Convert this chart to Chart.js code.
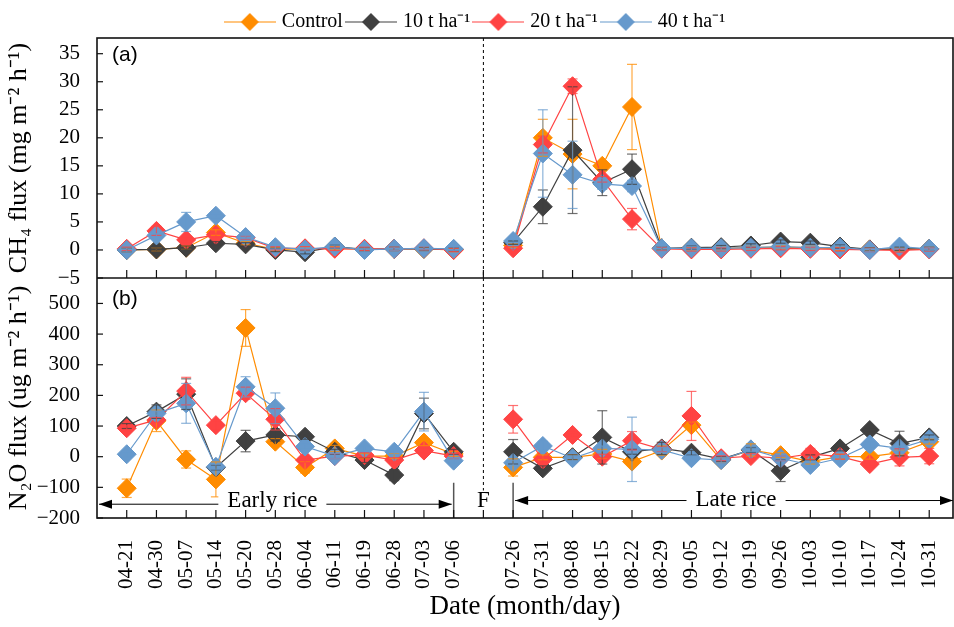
<!DOCTYPE html>
<html lang="en">

<head>
    <meta charset="UTF-8">
    <title>CH4 and N2O flux</title>
    <script src="https://cdn.jsdelivr.net/npm/chart.js"></script>
    <style>
        html,
        body {
            margin: 0;
            padding: 0;
            background: #fff;
        }
    </style>
</head>

<body>
    <canvas id="fluxChart" width="954" height="627"></canvas>

    <script>
        // sampling dates, '' is the fallow gap (F) between the two seasons
        const dates = ['04-21', '04-30', '05-07', '05-14', '05-20', '05-28', '06-04', '06-11', '06-19', '06-28', '07-03', '07-06',
            '',
            '07-26', '07-31', '08-08', '08-15', '08-22', '08-29', '09-05', '09-12', '09-19', '09-26', '10-03', '10-10', '10-17', '10-24', '10-31'];

        const seriesNames = ['Control', '10 t ha⁻¹', '20 t ha⁻¹', '40 t ha⁻¹'];
        const seriesColors = ['#ff8c00', '#404040', '#ff4343', '#6699cc'];

        const ch4Ticks = [-5, 0, 5, 10, 15, 20, 25, 30, 35];
        const n2oTicks = [-200, -100, 0, 100, 200, 300, 400, 500];

        // CH4 flux (mg m-2 h-1)
        const ch4Control = [0.0, 0.1, 0.4, 3.1, 1.2, 0.1, 0.2, 0.3, 0.1, 0.2, 0.2, 0.0, null,
            0.8, 20.0, 17.1, 15.0, 25.5, 0.3, 0.2, 0.3, 0.4, 0.5, 0.4, 0.2, 0.1, 0.1, 0.2];
        const ch4T10 = [0.0, 0.1, 0.4, 1.2, 1.0, 0.0, -0.4, 0.6, 0.1, 0.2, 0.2, 0.1, null,
            1.3, 7.7, 17.8, 12.0, 14.4, 0.3, 0.4, 0.5, 0.8, 1.5, 1.3, 0.6, 0.1, 0.2, 0.2];
        const ch4T20 = [0.2, 3.4, 1.8, 2.7, 2.2, 0.3, 0.3, 0.2, 0.2, 0.2, 0.3, 0.0, null,
            0.3, 18.8, 29.2, 12.6, 5.5, 0.2, 0.1, 0.1, 0.2, 0.3, 0.2, 0.1, 0.0, -0.1, 0.1];
        const ch4T40 = [0.0, 2.6, 5.0, 6.1, 2.3, 0.5, 0.1, 0.6, 0.0, 0.2, 0.3, 0.2, null,
            1.6, 17.2, 13.4, 11.8, 11.4, 0.3, 0.3, 0.3, 0.4, 0.6, 0.4, 0.4, 0.0, 0.6, 0.2];

        const ch4ControlErr = [0.3, 0.3, 0.3, 0.5, 0.3, 0.3, 0.3, 0.3, 0.3, 0.3, 0.3, 0.3, null,
            0.3, 3.3, 6.2, 0.5, 7.6, 0.3, 0.3, 0.3, 0.3, 0.3, 0.3, 0.3, 0.3, 0.3, 0.3];
        const ch4T10Err = [0.3, 0.3, 0.3, 0.3, 0.3, 0.3, 0.3, 0.3, 0.3, 0.3, 0.3, 0.3, null,
            0.3, 3.0, 11.3, 2.3, 2.7, 0.3, 0.3, 0.3, 0.3, 0.3, 0.3, 0.3, 0.3, 0.3, 0.3];
        const ch4T20Err = [0.3, 0.8, 0.3, 0.3, 0.3, 0.3, 0.3, 0.3, 0.3, 0.3, 0.3, 0.3, null,
            0.3, 1.5, 1.3, 0.5, 1.9, 0.3, 0.3, 0.3, 0.3, 0.3, 0.3, 0.3, 0.3, 0.3, 0.3];
        const ch4T40Err = [0.3, 0.3, 1.7, 0.3, 0.3, 0.3, 0.3, 0.3, 0.3, 0.3, 0.3, 0.3, null,
            0.3, 7.8, 6.0, 1.0, 1.0, 0.3, 0.3, 0.3, 0.3, 0.3, 0.3, 0.3, 0.3, 0.3, 0.3];

        // N2O flux (ug m-2 h-1)
        const n2oControl = [-103, 117, -9, -74, 420, 49, -35, 27, 2, 2, 46, 9, null,
            -35, -2, -2, 9, -16, 20, 103, -11, 22, 5, -16, 0, 0, 13, 49];
        const n2oT10 = [100, 147, 204, -35, 51, 71, 65, 16, -11, -60, 141, 16, null,
            16, -38, -2, 63, 16, 27, 13, -8, 22, -46, -2, 27, 87, 43, 63];
        const n2oT20 = [93, 120, 214, 103, 207, 122, -11, 2, 5, -11, 20, 2, null,
            122, -9, 71, 0, 52, 24, 133, -5, 2, -5, 9, 0, -24, -2, 2];
        const n2oT40 = [8, 141, 174, -33, 228, 158, 33, 2, 27, 16, 147, -13, null,
            -20, 35, -5, 27, 24, 22, -5, -11, 24, -5, -27, -5, 40, 27, 57];

        const n2oControlErr = [30, 35, 28, 57, 60, 10, 18, 10, 8, 8, 10, 8, null,
            28, 8, 8, 15, 8, 15, 10, 8, 20, 8, 8, 8, 8, 8, 8];
        const n2oT10Err = [8, 22, 50, 8, 35, 20, 8, 8, 8, 18, 50, 8, null,
            40, 8, 8, 87, 8, 20, 8, 8, 8, 35, 8, 8, 8, 40, 8];
        const n2oT20Err = [8, 8, 45, 15, 20, 35, 8, 8, 8, 8, 8, 8, null,
            45, 8, 8, 8, 30, 8, 80, 8, 8, 8, 18, 8, 8, 28, 25];
        const n2oT40Err = [8, 8, 65, 8, 33, 50, 8, 8, 8, 8, 63, 8, null,
            8, 15, 8, 8, 105, 8, 8, 8, 8, 8, 8, 8, 8, 8, 8];

        const ch4Series = [ch4Control, ch4T10, ch4T20, ch4T40];
        const ch4Errors = [ch4ControlErr, ch4T10Err, ch4T20Err, ch4T40Err];
        const n2oSeries = [n2oControl, n2oT10, n2oT20, n2oT40];
        const n2oErrors = [n2oControlErr, n2oT10Err, n2oT20Err, n2oT40Err];

        const serif = "'Liberation Serif', 'Times New Roman', serif";
        const sans = "'Liberation Sans', Arial, sans-serif";

        function makeDatasets(series, errors, axis) {
            return series.map((vals, s) => ({
                label: seriesNames[s],
                yAxisID: axis,
                data: vals.map((v, i) => ({ x: i, y: v })),
                errorBars: errors[s],
                borderColor: seriesColors[s],
                backgroundColor: seriesColors[s],
                borderWidth: 1.2,
                pointStyle: 'rectRot',
                pointRadius: 9.5,
                pointHoverRadius: 9.5,
                pointBorderWidth: 1,
                pointBackgroundColor: seriesColors[s],
                pointBorderColor: seriesColors[s],
                spanGaps: false,
                order: 3 - s
            }));
        }

        // legend icon: short line with a diamond in the middle
        const legendIcons = seriesColors.map(c => {
            const cv = document.createElement('canvas');
            cv.width = 52;
            cv.height = 20;
            const g = cv.getContext('2d');
            g.strokeStyle = c;
            g.lineWidth = 1.2;
            g.beginPath();
            g.moveTo(0, 10);
            g.lineTo(52, 10);
            g.stroke();
            g.fillStyle = c;
            g.beginPath();
            g.moveTo(26, 1);
            g.lineTo(35, 10);
            g.lineTo(26, 19);
            g.lineTo(17, 10);
            g.closePath();
            g.fill();
            return cv;
        });

        function hline(ctx, x1, y1, x2, y2) {
            ctx.beginPath();
            ctx.moveTo(x1, y1);
            ctx.lineTo(x2, y2);
            ctx.stroke();
        }

        function arrowHead(ctx, x, y, dir) {
            ctx.beginPath();
            ctx.moveTo(x, y);
            ctx.lineTo(x - dir * 13, y - 4.5);
            ctx.lineTo(x - dir * 13, y + 4.5);
            ctx.closePath();
            ctx.fill();
        }

        // push the legend row down a little, the plot area stays put
        const legendShift = {
            id: 'legendShift',
            afterLayout(chart) {
                if (chart.legend) {
                    chart.legend.top += 4;
                    chart.legend.bottom += 4;
                }
            }
        };

        const errorBarPlugin = {
            id: 'errorBars',
            afterDatasetsDraw(chart) {
                const ctx = chart.ctx;
                const xs = chart.scales.x;
                chart.data.datasets.forEach((ds, di) => {
                    const ys = chart.scales[ds.yAxisID];
                    ctx.save();
                    ctx.strokeStyle = ds.borderColor;
                    ctx.globalAlpha = 0.75;
                    ctx.lineWidth = 1.2;
                    ds.data.forEach((p, i) => {
                        if (p.y === null) return;
                        const e = ds.errorBars[i];
                        const px = xs.getPixelForValue(p.x);
                        const top = ys.getPixelForValue(p.y + e);
                        const bot = ys.getPixelForValue(p.y - e);
                        hline(ctx, px, top, px, bot);
                        hline(ctx, px - 5, top, px + 5, top);
                        hline(ctx, px - 5, bot, px + 5, bot);
                    });
                    ctx.restore();
                });
            }
        };

        const framePlugin = {
            id: 'frame',
            afterDraw(chart) {
                const { ctx, chartArea: a, scales } = chart;
                const xs = scales.x, yTop = scales.y, yBot = scales.y2;
                const mid = yTop.bottom;
                ctx.save();
                ctx.strokeStyle = '#000';
                ctx.fillStyle = '#000';

                // season annotations in panel (b)
                const gapX = xs.getPixelForValue(12);
                ctx.lineWidth = 1;
                ctx.setLineDash([3, 3]);
                hline(ctx, gapX, a.top, gapX, yBot.getPixelForValue(-110));
                ctx.setLineDash([]);

                const earlyEnd = xs.getPixelForValue(11);
                const lateStart = xs.getPixelForValue(13);
                ctx.strokeStyle = '#555';
                ctx.lineWidth = 1.5;
                hline(ctx, earlyEnd, yBot.getPixelForValue(-85), earlyEnd, a.bottom);
                hline(ctx, lateStart, yBot.getPixelForValue(-85), lateStart, a.bottom);

                ctx.strokeStyle = '#000';
                ctx.lineWidth = 1;
                const yEarly = yBot.getPixelForValue(-155);
                const yLate = yBot.getPixelForValue(-143);
                hline(ctx, a.left + 2, yEarly, earlyEnd - 2, yEarly);
                arrowHead(ctx, a.left + 2, yEarly, -1);
                arrowHead(ctx, earlyEnd - 2, yEarly, 1);
                hline(ctx, lateStart + 2, yLate, a.right, yLate);
                arrowHead(ctx, lateStart + 2, yLate, -1);
                arrowHead(ctx, a.right, yLate, 1);

                ctx.font = '23px ' + serif;
                ctx.textAlign = 'center';
                ctx.textBaseline = 'middle';
                [['Early rice', 4.9, yEarly - 3], ['Late rice', 20.5, yLate - 1]].forEach(([t, v, y]) => {
                    const cx = xs.getPixelForValue(v);
                    const w = ctx.measureText(t).width;
                    ctx.fillStyle = '#fff';
                    ctx.fillRect(cx - w / 2 - 9, y - 12, w + 18, 22);
                    ctx.fillStyle = '#000';
                    ctx.fillText(t, cx, y);
                });
                ctx.fillText('F', gapX, yLate);

                // panel letters
                ctx.font = '21px ' + sans;
                ctx.textAlign = 'left';
                ctx.fillText('(a)', a.left + 15, a.top + 17);
                ctx.fillText('(b)', a.left + 15, mid + 21);

                // frame and inward tick marks
                ctx.lineWidth = 1.6;
                ctx.strokeStyle = '#111';
                ctx.strokeRect(a.left, a.top, a.right - a.left, a.bottom - a.top);
                hline(ctx, a.left, mid, a.right, mid);
                ctx.lineWidth = 1.2;
                xs.ticks.forEach(t => {
                    const px = xs.getPixelForValue(t.value);
                    hline(ctx, px, mid, px, mid - 8);
                    hline(ctx, px, a.bottom, px, a.bottom - 8);
                });
                [yTop, yBot].forEach(s => s.ticks.forEach(t => {
                    const py = s.getPixelForValue(t.value);
                    hline(ctx, a.left, py, a.left + 6, py);
                }));
                ctx.restore();
            }
        };

        const minusSign = v => String(v).replace('-', '−');

        new Chart(document.getElementById('fluxChart'), {
            type: 'line',
            data: {
                datasets: makeDatasets(ch4Series, ch4Errors, 'y').concat(makeDatasets(n2oSeries, n2oErrors, 'y2'))
            },
            options: {
                responsive: false,
                animation: false,
                devicePixelRatio: 1,
                layout: {
                    autoPadding: false,
                    padding: { left: 0, right: 1, top: 2, bottom: 0 }
                },
                plugins: {
                    tooltip: { enabled: false },
                    legend: {
                        position: 'top',
                        labels: {
                            usePointStyle: true,
                            pointStyleWidth: 44,
                            padding: 6,
                            color: '#000',
                            font: { family: serif, size: 20 },
                            generateLabels: () => seriesNames.map((name, i) => ({
                                text: name,
                                pointStyle: legendIcons[i],
                                fillStyle: seriesColors[i],
                                strokeStyle: seriesColors[i],
                                lineWidth: 0,
                                hidden: false,
                                datasetIndex: i,
                                fontColor: '#000'
                            }))
                        }
                    }
                },
                scales: {
                    x: {
                        type: 'linear',
                        position: 'bottom',
                        min: -1,
                        max: 27.8,
                        afterBuildTicks: s => { s.ticks = dates.map((d, i) => ({ value: i })); },
                        afterFit: s => {
                            s.height = 109;
                            s.paddingLeft = 0;
                            s.paddingRight = 0;
                        },
                        grid: { display: false },
                        border: { display: false },
                        ticks: {
                            autoSkip: false,
                            minRotation: 90,
                            maxRotation: 90,
                            padding: 14,
                            color: '#000',
                            font: { family: serif, size: 21 },
                            callback: v => dates[v] ?? ''
                        },
                        title: {
                            display: true,
                            text: 'Date (month/day)',
                            color: '#000',
                            font: { family: serif, size: 27 },
                            padding: { top: 0, bottom: 4 }
                        }
                    },
                    y: {
                        type: 'linear',
                        position: 'left',
                        stack: 'panels',
                        stackWeight: 1,
                        weight: 1,
                        min: -5,
                        max: 37.8,
                        afterBuildTicks: s => { s.ticks = ch4Ticks.map(v => ({ value: v })); },
                        afterFit: s => { s.width = 97; },
                        grid: { display: false },
                        border: { display: false },
                        ticks: {
                            autoSkip: false,
                            padding: 9,
                            color: '#000',
                            font: { family: serif, size: 21 },
                            callback: minusSign
                        },
                        title: {
                            display: true,
                            text: 'CH₄ flux (mg m⁻² h⁻¹)',
                            color: '#000',
                            font: { family: serif, size: 26 },
                            padding: { top: 4, bottom: 0 }
                        }
                    },
                    y2: {
                        type: 'linear',
                        position: 'left',
                        stack: 'panels',
                        stackWeight: 1,
                        weight: 0,
                        min: -200,
                        max: 583,
                        afterBuildTicks: s => { s.ticks = n2oTicks.map(v => ({ value: v })); },
                        afterFit: s => { s.width = 97; },
                        grid: { display: false },
                        border: { display: false },
                        ticks: {
                            autoSkip: false,
                            padding: 9,
                            color: '#000',
                            font: { family: serif, size: 21 },
                            callback: minusSign
                        },
                        title: {
                            display: true,
                            text: 'N₂O flux (ug m⁻² h⁻¹)',
                            color: '#000',
                            font: { family: serif, size: 26 },
                            padding: { top: 4, bottom: 0 }
                        }
                    }
                }
            },
            plugins: [legendShift, errorBarPlugin, framePlugin]
        });
    </script>
</body>

</html>
